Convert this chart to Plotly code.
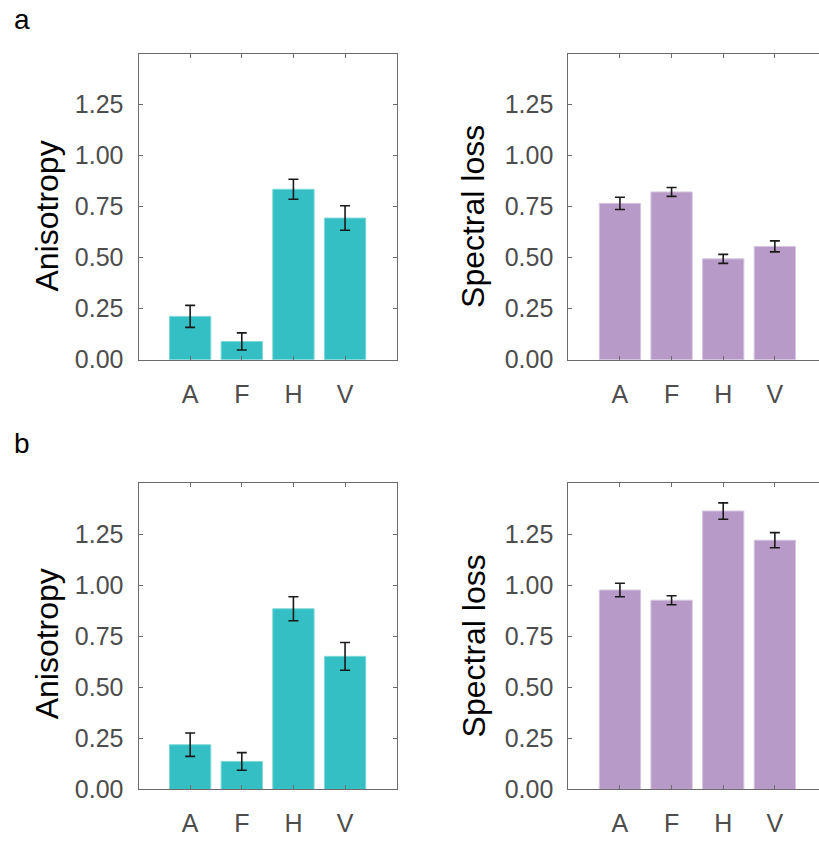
import plotly.graph_objects as go

categories = ["A", "F", "H", "V"]

aniso_a = [0.212, 0.089, 0.835, 0.694]
aniso_a_err = [0.054, 0.042, 0.049, 0.060]
spec_a = [0.766, 0.822, 0.494, 0.555]
spec_a_err = [0.030, 0.022, 0.022, 0.027]

aniso_b = [0.219, 0.137, 0.885, 0.652]
aniso_b_err = [0.057, 0.043, 0.059, 0.068]
spec_b = [0.977, 0.927, 1.364, 1.221]
spec_b_err = [0.033, 0.022, 0.040, 0.037]

y_ticks = [0, 0.25, 0.5, 0.75, 1.0, 1.25]
y_ticktext = ["0.00", "0.25", "0.50", "0.75", "1.00", "1.25"]

TEAL = "#33bfc3"
TEAL_EDGE = "#7fd8da"
PURPLE = "#b89ac8"
PURPLE_EDGE = "#d6c6e0"
FRAME = "#6b6b6b"
TICKFONT = dict(family="Liberation Sans, Arial, sans-serif", size=25, color="#4d4d4d")
TITLEFONT = dict(family="Liberation Sans, Arial, sans-serif", size=32, color="#000000")

W, H = 819, 845

panels = [
    (aniso_a, aniso_a_err, TEAL, TEAL_EDGE, "x", "y"),
    (spec_a, spec_a_err, PURPLE, PURPLE_EDGE, "x2", "y2"),
    (aniso_b, aniso_b_err, TEAL, TEAL_EDGE, "x3", "y3"),
    (spec_b, spec_b_err, PURPLE, PURPLE_EDGE, "x4", "y4"),
]

fig = go.Figure()
for vals, errs, col, edge, xa, ya in panels:
    fig.add_trace(go.Bar(
        x=categories, y=vals, width=0.8,
        marker=dict(color=col, line=dict(color=edge, width=1)),
        error_y=dict(type="data", array=errs, color="#1a1a1a", thickness=1.6, width=5),
        xaxis=xa, yaxis=ya, showlegend=False,
    ))

left_dom = [138.5 / W, 396.7 / W]
right_dom = [568.3 / W, 1.0]
top_dom = [1 - 365.7 / H, 1 - 54.5 / H]
bot_dom = [1 - 802.7 / H, 1 - 491.4 / H]
spacing = (396.7 - 138.5) / 5.0
right_max = (W - 568.3) / spacing - 1


def xaxis(dom, anchor, rng):
    return dict(domain=dom, anchor=anchor, range=rng, type="category",
                categoryorder="array", categoryarray=categories,
                showline=True, linecolor=FRAME, linewidth=1, mirror="ticks",
                ticks="inside", ticklen=4, tickcolor=FRAME, tickwidth=1,
                tickfont=TICKFONT, showgrid=False, zeroline=False,
                ticklabelstandoff=12)


def yaxis(dom, anchor, mirror):
    return dict(domain=dom, anchor=anchor, range=[0, 1.5],
                tickvals=y_ticks, ticktext=y_ticktext,
                showline=True, linecolor=FRAME, linewidth=1, mirror=mirror,
                ticks="inside", ticklen=4, tickcolor=FRAME, tickwidth=1,
                tickfont=TICKFONT, showgrid=False, zeroline=False,
                ticklabelstandoff=9)


fig.update_layout(
    width=W, height=H,
    margin=dict(l=0, r=0, t=0, b=0),
    paper_bgcolor="white", plot_bgcolor="white",
    bargap=0.2,
    xaxis=xaxis(left_dom, "y", [-1, 4]),
    yaxis=yaxis(top_dom, "x", "ticks"),
    xaxis2=xaxis(right_dom, "y2", [-1, right_max]),
    yaxis2=yaxis(top_dom, "x2", False),
    xaxis3=xaxis(left_dom, "y3", [-1, 4]),
    yaxis3=yaxis(bot_dom, "x3", "ticks"),
    xaxis4=xaxis(right_dom, "y4", [-1, right_max]),
    yaxis4=yaxis(bot_dom, "x4", False),
)

annotations = [
    dict(text="Anisotropy", x=47.2 / W, y=1 - 220 / H),
    dict(text="Spectral loss", x=473.6 / W, y=1 - 220 / H),
    dict(text="Anisotropy", x=47.2 / W, y=1 - 655 / H),
    dict(text="Spectral loss", x=473.6 / W, y=1 - 656.7 / H),
]
for a in annotations:
    fig.add_annotation(xref="paper", yref="paper", textangle=-90, showarrow=False,
                       xanchor="center", yanchor="middle", font=TITLEFONT, **a)

for lbl, yy in [("a", 20), ("b", 451)]:
    fig.add_annotation(text=lbl, xref="paper", yref="paper", x=12 / W, y=1 - yy / H,
                       xanchor="left", yanchor="middle", showarrow=False,
                       font=dict(family="Liberation Sans, Arial, sans-serif", size=28, color="#000000"))

fig.write_html("out.html")
